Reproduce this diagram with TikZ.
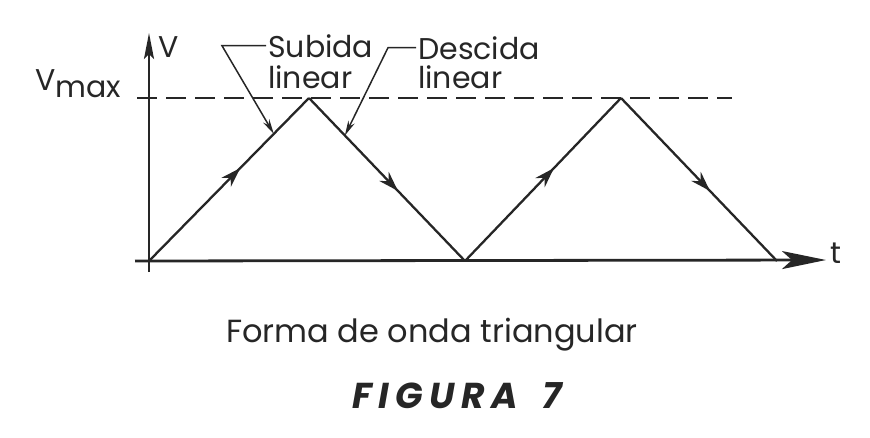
\documentclass[tikz,border=0pt]{standalone}
\usepackage{fontspec}
\setmainfont{Poppins}
\newfontfamily\figfont[LetterSpace=18]{Poppins}
\usetikzlibrary{arrows.meta,decorations.markings}

\begin{document}
\begin{tikzpicture}[x=1pt,y=-1pt,black!85,
axis/.style={line width=2.8pt,-{Stealth[length=44pt,width=18pt,inset=10pt]}},
yaxis/.style={line width=2.6pt,-{Stealth[length=26pt,width=10pt,inset=5pt]}},
wave/.style={line width=2.3pt,postaction={decorate},
  decoration={markings,mark=at position 0.57 with {\arrow{Stealth[length=20pt,width=13pt]}}}},
callout/.style={line width=1.5pt,-{Stealth[length=15pt,width=7pt]}},
level/.style={line width=1.8pt,dash pattern=on 20pt off 9pt},
lbl/.style={inner sep=0pt,anchor=base west,font=\fontsize{30}{36}\selectfont}]
\useasboundingbox (0,0) rectangle (870,437);
\coordinate (xs) at (135,261);
\coordinate (xe) at (826,260);
\coordinate (ys) at (149,272);
\coordinate (ye) at (149,33);
\coordinate (ds) at (137,98);
\coordinate (de) at (732,98);
\coordinate (o) at (149,261);
\coordinate (p1) at (309,98);
\coordinate (v1) at (465,261);
\coordinate (p2) at (621,98);
\coordinate (v2) at (777,261);
\draw[level] (ds) -- (de);
\draw[axis] (xs) -- (xe);
\draw[yaxis] (ys) -- (ye);
\draw[wave] (o) -- (p1);
\draw[wave] (p1) -- (v1);
\draw[wave] (v1) -- (p2);
\draw[wave] (p2) -- (v2);
\node[lbl] (vmax) at (35,90) {V\raisebox{-7pt}{max}};
\node[lbl] (vlab) at (158,57) {V};
\node[lbl] (tlab) at (830,263) {t};
\node[lbl] (sub1) at (268,57) {Subida};
\node[lbl] (sub2) at (268,88) {linear};
\node[lbl] (des1) at (418,59) {Descida};
\node[lbl] (des2) at (418,88) {linear};
\path (o) -- (p1) coordinate[pos=0.78] (rtip);
\path (p1) -- (v1) coordinate[pos=0.23] (ftip);
\draw[callout] ([xshift=-2pt]sub1.west) -- ++(-44,0) -- (rtip);
\draw[callout] ([xshift=-2pt]des1.west) -- ++(-28,0) -- (ftip);
\node[anchor=base,font=\fontsize{32}{38}\selectfont] (cap) at (432,342) {Forma de onda triangular};
\node[anchor=base,font=\figfont\bfseries\itshape\fontsize{36}{42}\selectfont] (fig) at (457,408) {FIGURA\hspace{24pt}7};
\end{tikzpicture}
\end{document}
